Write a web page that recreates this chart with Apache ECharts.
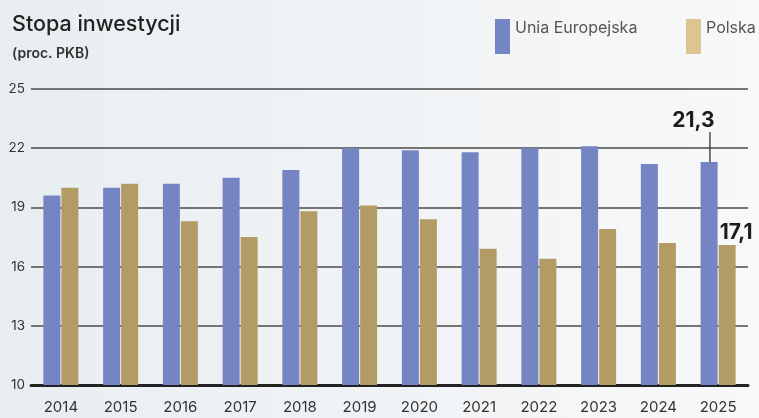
<!DOCTYPE html>
<html>
<head>
<meta charset="utf-8">
<script src="https://cdn.jsdelivr.net/npm/echarts@6/dist/echarts.min.js"></script>
<style>
  html, body { margin: 0; padding: 0; }
  #main { width: 759px; height: 418px; }
</style>
</head>
<body>
<div id="main"></div>
<script>
var years = ['2014', '2015', '2016', '2017', '2018', '2019', '2020', '2021', '2022', '2023', '2024', '2025'];
var ue = [19.6, 20.0, 20.2, 20.5, 20.9, 22.0, 21.9, 21.8, 22.0, 22.1, 21.2, 21.3];
var polska = [20.0, 20.2, 18.3, 17.5, 18.8, 19.1, 18.4, 16.9, 16.4, 17.9, 17.2, 17.1];
var seriesNames = ['Unia Europejska', 'Polska'];

var font = 'Inter, "Noto Sans", sans-serif';

// ostatni słupek ma podpis z wartością
var ueData = ue.map(function (v, i) {
    if (i !== ue.length - 1) return v;
    return {
        value: v,
        label: {
            show: true,
            position: [14, 0],
            align: 'right',
            verticalAlign: 'bottom',
            formatter: '{v|' + String(v).replace('.', ',') + '}\n{l|}{s|}',
            rich: {
                v: { fontSize: 21, fontWeight: 'bold', color: '#1c1c1c', fontFamily: font, lineHeight: 22, align: 'right' },
                l: { width: 1.3, height: 30, backgroundColor: '#333', align: 'right' },
                s: { width: 4, height: 30, align: 'right' }
            }
        }
    };
});
var plData = polska.map(function (v, i) {
    if (i !== polska.length - 1) return v;
    return {
        value: v,
        label: {
            show: true,
            position: [1, -2],
            align: 'left',
            verticalAlign: 'bottom',
            formatter: String(v).replace('.', ','),
            fontSize: 21,
            fontWeight: 'bold',
            color: '#1c1c1c',
            fontFamily: font
        }
    };
});

function legendAt(left, name, iconColor) {
    return {
        left: left,
        top: 14,
        itemWidth: 15,
        itemHeight: 35,
        itemGap: 0,
        icon: 'rect',
        data: [{ name: name, itemStyle: { color: iconColor } }],
        formatter: function (n) { return n + '\n'; },
        textStyle: { fontFamily: font, fontSize: 16, color: '#555', lineHeight: 17 }
    };
}

var chart = echarts.init(document.getElementById('main'));
chart.setOption({
    animation: false,
    backgroundColor: new echarts.graphic.LinearGradient(0, 0, 1, 0, [
        { offset: 0, color: '#e8eef0' },
        { offset: 1, color: '#f8f8fa' }
    ]),
    title: {
        text: 'Stopa inwestycji',
        subtext: '(proc. PKB)',
        left: 7,
        top: 9,
        itemGap: 11,
        textStyle: { fontFamily: font, fontSize: 21.5, fontWeight: 500, color: '#222' },
        subtextStyle: { fontFamily: font, fontSize: 14, fontWeight: 600, color: '#333' }
    },
    legend: [
        legendAt(490, seriesNames[0], '#7585c4'),
        legendAt(681, seriesNames[1], '#dec590')
    ],
    grid: { left: 31, right: 11, top: 89, bottom: 33 },
    xAxis: {
        type: 'category',
        data: years,
        axisLine: { show: true, lineStyle: { color: '#222', width: 3 } },
        axisTick: { show: false },
        axisLabel: { fontFamily: font, fontSize: 15, color: '#333', margin: 15 }
    },
    yAxis: {
        type: 'value',
        min: 10,
        max: 25,
        interval: 3,
        axisLine: { show: false },
        axisTick: { show: false },
        axisLabel: { fontFamily: font, fontSize: 13.5, color: '#333', margin: 6 },
        splitLine: { lineStyle: { color: '#4a4a4a', width: 1.5 } }
    },
    series: [
        {
            name: seriesNames[0],
            type: 'bar',
            data: ueData,
            barWidth: 17,
            barGap: '6%',
            itemStyle: { color: '#7585c4' }
        },
        {
            name: seriesNames[1],
            type: 'bar',
            data: plData,
            barWidth: 17,
            itemStyle: { color: '#b39b65' }
        }
    ]
});
</script>
</body>
</html>
